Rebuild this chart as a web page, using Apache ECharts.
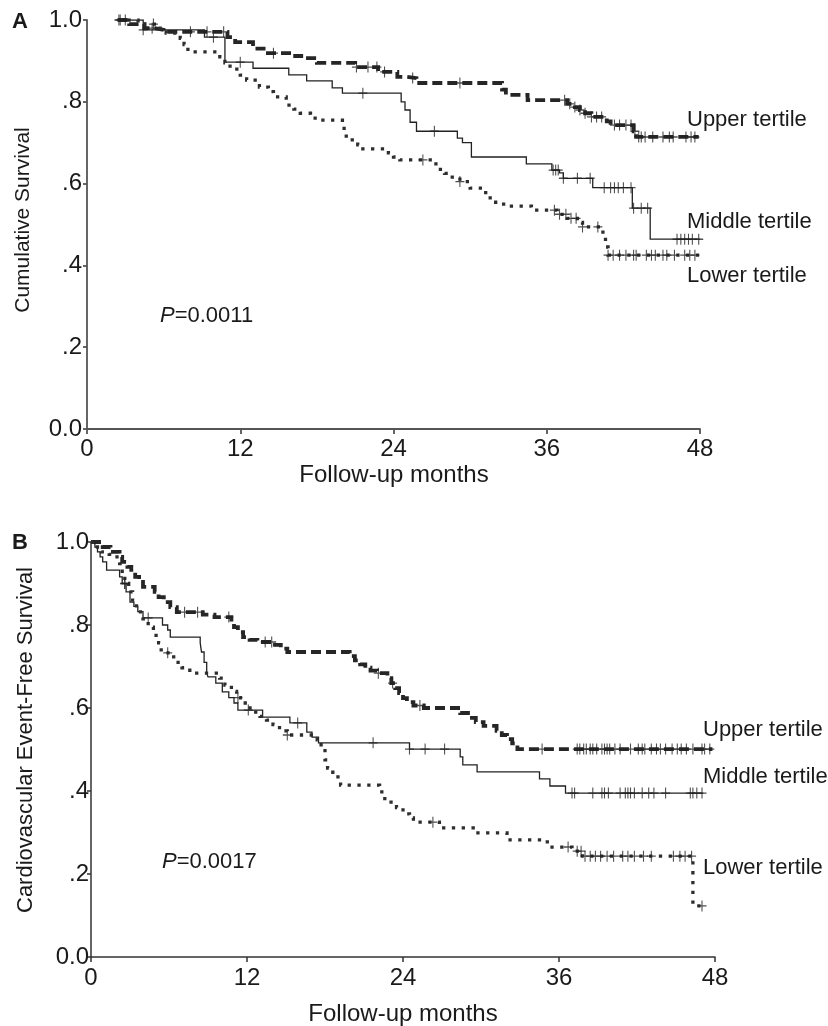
<!DOCTYPE html>
<html><head><meta charset="utf-8">
<script src="https://cdn.jsdelivr.net/npm/echarts@6/dist/echarts.min.js"></script>
<style>html,body{margin:0;padding:0;background:#fff}#c{width:828px;height:1026px}</style>
</head><body><div id="c"></div>
<script>
// ---------- tick labels ----------
const xTickLabels = ['0', '12', '24', '36', '48'];
const yTickLabels = ['0.0', '.2', '.4', '.6', '.8', '1.0'];
const groupNames = ['Upper tertile', 'Middle tertile', 'Lower tertile'];
const pValueA = '0.0011';
const pValueB = '0.0017';

// ---------- Panel A: Kaplan-Meier steps [month, cumulative survival] ----------
const aUpperSteps = [[2.4,1.0],[3.3,0.99],[4.5,0.98],[5.3,0.976],[6.0,0.971],[11.0,0.958],[11.6,0.946],[13.0,0.93],[14.0,0.919],[16.3,0.912],[17.3,0.907],[18.0,0.895],[21.0,0.885],[22.8,0.873],[24.3,0.861],[25.0,0.858],[25.8,0.846],[32.5,0.83],[32.8,0.817],[34.5,0.804],[37.6,0.795],[38.2,0.787],[38.6,0.78],[39.0,0.772],[39.5,0.763],[40.7,0.752],[41.0,0.743],[42.8,0.728],[43.0,0.714],[47.9,0.714]];
const aUpperCensored = [2.6,3.0,5.1,8.1,9.4,10.7,14.6,21.1,22.0,22.7,23.3,25.5,29.2,37.4,37.8,38.2,38.6,39.0,39.5,39.9,40.3,41.3,41.7,42.2,42.6,42.9,43.2,43.4,43.7,44.3,45.1,45.6,45.9,46.9,47.3,47.6];

const aMiddleSteps = [[2.4,1.0],[4.4,0.976],[9.2,0.958],[10.8,0.897],[13.0,0.882],[15.8,0.866],[17.2,0.851],[19.2,0.834],[20.0,0.821],[24.6,0.80],[24.9,0.78],[25.3,0.75],[25.8,0.728],[29.0,0.711],[29.4,0.70],[30.1,0.665],[34.4,0.648],[36.4,0.633],[37.0,0.626],[37.3,0.613],[39.6,0.59],[42.7,0.54],[44.1,0.464],[48.0,0.464]];
const aMiddleCensored = [2.5,4.4,9.9,12.0,21.6,27.2,36.5,36.7,36.9,37.3,38.4,39.4,40.5,41.0,41.3,41.6,42.0,42.6,42.8,43.4,43.9,46.2,46.5,46.8,47.1,47.4,47.9];

const aLowerSteps = [[2.4,1.0],[4.0,0.99],[5.5,0.98],[6.2,0.968],[7.3,0.955],[7.6,0.94],[7.9,0.922],[10.4,0.91],[10.8,0.895],[11.2,0.88],[12.0,0.865],[12.5,0.853],[13.5,0.836],[14.2,0.825],[14.6,0.812],[15.6,0.792],[16.2,0.782],[16.7,0.772],[17.5,0.76],[18.2,0.755],[20.0,0.735],[20.3,0.707],[21.2,0.695],[21.6,0.685],[23.6,0.675],[24.0,0.665],[24.5,0.658],[27.1,0.648],[27.5,0.635],[28.0,0.625],[28.4,0.616],[29.2,0.605],[30.0,0.589],[30.8,0.578],[31.4,0.565],[32.0,0.55],[33.0,0.545],[34.8,0.535],[36.8,0.525],[37.6,0.515],[38.4,0.505],[38.8,0.494],[40.4,0.47],[40.6,0.445],[40.8,0.425],[48.0,0.425]];
const aLowerCensored = [5.2,26.3,29.2,36.6,37.0,37.5,37.9,38.3,38.8,40.0,40.8,41.2,41.7,42.2,42.8,43.0,43.8,44.2,44.5,45.1,45.4,46.0,46.8,47.2,47.6];

// ---------- Panel B: event-free survival steps ----------
const bUpperSteps = [[0,1.0],[0.9,0.988],[1.5,0.976],[2.2,0.964],[2.4,0.952],[2.8,0.94],[3.1,0.928],[3.4,0.916],[3.7,0.904],[4.0,0.892],[4.9,0.88],[5.2,0.867],[5.6,0.855],[6.1,0.843],[6.6,0.831],[8.6,0.825],[9.5,0.819],[10.8,0.807],[11.0,0.795],[11.3,0.783],[11.7,0.771],[12.2,0.764],[12.8,0.759],[14.0,0.752],[14.6,0.743],[15.1,0.735],[19.9,0.725],[20.3,0.715],[20.7,0.705],[21.1,0.697],[21.5,0.69],[22.0,0.684],[22.8,0.672],[23.1,0.66],[23.4,0.648],[23.7,0.636],[24.0,0.624],[24.3,0.614],[24.8,0.606],[25.6,0.60],[28.4,0.588],[29.0,0.576],[29.6,0.566],[30.2,0.557],[31.2,0.545],[31.6,0.535],[32.0,0.525],[32.4,0.515],[32.8,0.501],[47.8,0.501]];
const bUpperCensored = [7.2,8.2,10.6,13.4,13.9,22.1,23.2,25.3,34.7,37.4,37.6,37.9,38.1,38.4,38.6,38.9,39.3,39.5,39.7,39.9,40.3,40.7,41.5,42.1,42.4,42.6,43.1,43.5,43.8,44.2,44.7,45.1,45.4,45.8,46.3,47.0,47.2,47.6];

const bMiddleSteps = [[0,1.0],[0.3,0.988],[0.5,0.976],[0.7,0.964],[0.9,0.952],[1.2,0.932],[2.2,0.916],[2.4,0.9],[2.7,0.88],[3.0,0.855],[3.3,0.845],[3.6,0.832],[4.0,0.817],[5.5,0.80],[5.9,0.788],[6.1,0.771],[8.4,0.757],[8.5,0.735],[8.7,0.71],[8.9,0.684],[9.0,0.675],[9.6,0.66],[10.1,0.639],[10.6,0.625],[11.0,0.612],[11.3,0.595],[13.2,0.578],[15.3,0.564],[16.6,0.542],[17.0,0.53],[17.5,0.516],[24.5,0.501],[28.4,0.482],[28.6,0.463],[29.7,0.446],[34.5,0.429],[35.3,0.412],[36.5,0.395],[47.1,0.395]];
const bMiddleCensored = [2.6,4.4,12.1,15.9,21.7,24.5,25.7,27.2,37.0,37.2,38.6,39.3,39.5,39.8,40.7,41.1,41.3,41.5,41.8,42.4,42.9,43.3,44.2,46.1,46.3,46.6,47.0];

const bLowerSteps = [[0,1.0],[0.3,0.988],[0.8,0.976],[1.4,0.97],[2.0,0.96],[2.2,0.948],[2.4,0.92],[2.6,0.9],[2.9,0.88],[3.2,0.86],[3.5,0.84],[3.8,0.825],[4.0,0.815],[4.4,0.795],[4.8,0.775],[5.2,0.757],[5.4,0.733],[6.1,0.723],[6.5,0.71],[7.0,0.697],[7.6,0.684],[9.9,0.672],[10.3,0.655],[10.8,0.64],[11.2,0.625],[11.5,0.612],[12.0,0.6],[12.5,0.59],[13.0,0.58],[13.5,0.571],[14.0,0.56],[14.5,0.545],[15.1,0.535],[17.4,0.523],[17.7,0.504],[18.0,0.475],[18.2,0.455],[18.6,0.434],[19.2,0.414],[22.2,0.398],[22.6,0.373],[23.5,0.36],[24.0,0.345],[24.5,0.335],[24.8,0.325],[26.8,0.311],[29.4,0.299],[32.0,0.282],[35.1,0.265],[37.0,0.255],[37.8,0.243],[46.3,0.123],[47.0,0.123]];
const bLowerCensored = [2.6,5.9,11.3,15.1,26.3,36.7,37.4,37.7,38.0,38.4,38.8,39.2,39.7,40.2,40.9,41.3,41.8,42.5,43.1,44.8,45.3,45.7,46.2,47.0];

// ---------- helpers ----------
function valueAt(steps, t) {
  let v = steps[0][1];
  for (const s of steps) { if (s[0] <= t + 1e-9) v = s[1]; else break; }
  return v;
}
function censorPoints(steps, times) { return times.map(t => [t, valueAt(steps, t)]); }

const INK = '#222';
const lineStyles = [
  { width: 3.8, type: [10, 5], color: '#262626' },
  { width: 1.3, type: 'solid', color: INK },
  { width: 3.3, type: [3.3, 6.5], color: '#2e2e2e' }
];
const plusSymbol = 'path://M0,8.8h20v2.4h-20z M8.8,0h2.4v20h-2.4z';
const FONT = 'Liberation Sans, Arial, sans-serif';

function panelSeries(idx, stepsList, censorList) {
  const out = [];
  stepsList.forEach((steps, k) => {
    out.push({
      name: groupNames[k], type: 'line', step: 'end',
      xAxisIndex: idx, yAxisIndex: idx,
      data: steps, showSymbol: false, symbol: 'none', silent: true,
      lineStyle: Object.assign({ cap: 'butt', join: 'miter' }, lineStyles[k]),
      z: 2
    });
    out.push({
      name: groupNames[k] + ' censored', type: 'scatter',
      xAxisIndex: idx, yAxisIndex: idx,
      data: censorPoints(steps, censorList[k]),
      symbol: plusSymbol, symbolSize: [9, 11], silent: true,
      itemStyle: { color: INK }, z: 3
    });
  });
  return out;
}

function xAxisFor(idx, color, width, margin) {
  return {
    type: 'value', gridIndex: idx, min: 0, max: 48, interval: 12,
    axisLine: { show: true, onZero: false, lineStyle: { color: color, width: width } },
    axisTick: { show: true, length: 5, lineStyle: { color: color, width: width } },
    splitLine: { show: false },
    axisLabel: { margin: margin, color: '#1a1a1a', fontSize: 24, fontFamily: FONT,
      formatter: (v, i) => xTickLabels[i] }
  };
}
function yAxisFor(idx, color, width, margin) {
  return {
    type: 'value', gridIndex: idx, min: 0, max: 1, interval: 0.2,
    axisLine: { show: true, onZero: false, lineStyle: { color: color, width: width } },
    axisTick: { show: true, length: 4, lineStyle: { color: color, width: width } },
    splitLine: { show: false },
    axisLabel: { margin: margin, color: '#1a1a1a', fontSize: 24, fontFamily: FONT,
      formatter: (v, i) => yTickLabels[i] }
  };
}

function txt(x, y, text, size, extra) {
  return Object.assign({
    type: 'text', x: x, y: y, silent: true,
    style: Object.assign({ text: text, fill: '#1a1a1a', fontSize: size, fontFamily: FONT,
      align: 'left', verticalAlign: 'middle' }, (extra && extra.style) || {})
  }, extra && extra.rotation !== undefined ? { rotation: extra.rotation } : {});
}

const chart = echarts.init(document.getElementById('c'), null, { renderer: 'canvas' });
chart.setOption({
  animation: false,
  backgroundColor: '#ffffff',
  grid: [
    { left: 87, top: 20, width: 613, height: 409, outerBoundsMode: 'none', containLabel: false },
    { left: 91, top: 542, width: 624, height: 415, outerBoundsMode: 'none', containLabel: false }
  ],
  xAxis: [xAxisFor(0, '#555', 1.8, 8), xAxisFor(1, '#333', 1.5, 9)],
  yAxis: [yAxisFor(0, '#555', 1.8, 5), yAxisFor(1, '#333', 1.5, 2)],
  series: [].concat(
    panelSeries(0, [aUpperSteps, aMiddleSteps, aLowerSteps], [aUpperCensored, aMiddleCensored, aLowerCensored]),
    panelSeries(1, [bUpperSteps, bMiddleSteps, bLowerSteps], [bUpperCensored, bMiddleCensored, bLowerCensored])
  ),
  graphic: [
    txt(12, 22, 'A', 22, { style: { fontWeight: 'bold' } }),
    txt(12, 543, 'B', 22, { style: { fontWeight: 'bold' } }),
    txt(23, 220, 'Cumulative Survival', 21, { rotation: Math.PI / 2, style: { align: 'center' } }),
    txt(26, 740, 'Cardiovascular Event-Free Survival', 22, { rotation: Math.PI / 2, style: { align: 'center' } }),
    txt(394, 475, 'Follow-up months', 24, { style: { align: 'center' } }),
    txt(403, 1014, 'Follow-up months', 24, { style: { align: 'center' } }),
    { type: 'text', x: 160, y: 316, silent: true, style: {
        text: '{i|P}=' + pValueA, fill: '#1a1a1a', fontSize: 22, fontFamily: FONT, verticalAlign: 'middle',
        rich: { i: { fontStyle: 'italic', fontSize: 22, fontFamily: FONT, fill: '#1a1a1a' } } } },
    { type: 'text', x: 162, y: 862, silent: true, style: {
        text: '{i|P}=' + pValueB, fill: '#1a1a1a', fontSize: 22, fontFamily: FONT, verticalAlign: 'middle',
        rich: { i: { fontStyle: 'italic', fontSize: 22, fontFamily: FONT, fill: '#1a1a1a' } } } },
    txt(687, 120, groupNames[0], 22),
    txt(687, 222, groupNames[1], 22),
    txt(687, 276, groupNames[2], 22),
    txt(703, 730, groupNames[0], 22),
    txt(703, 777, groupNames[1], 22),
    txt(703, 868, groupNames[2], 22)
  ]
});
</script>
</body></html>
